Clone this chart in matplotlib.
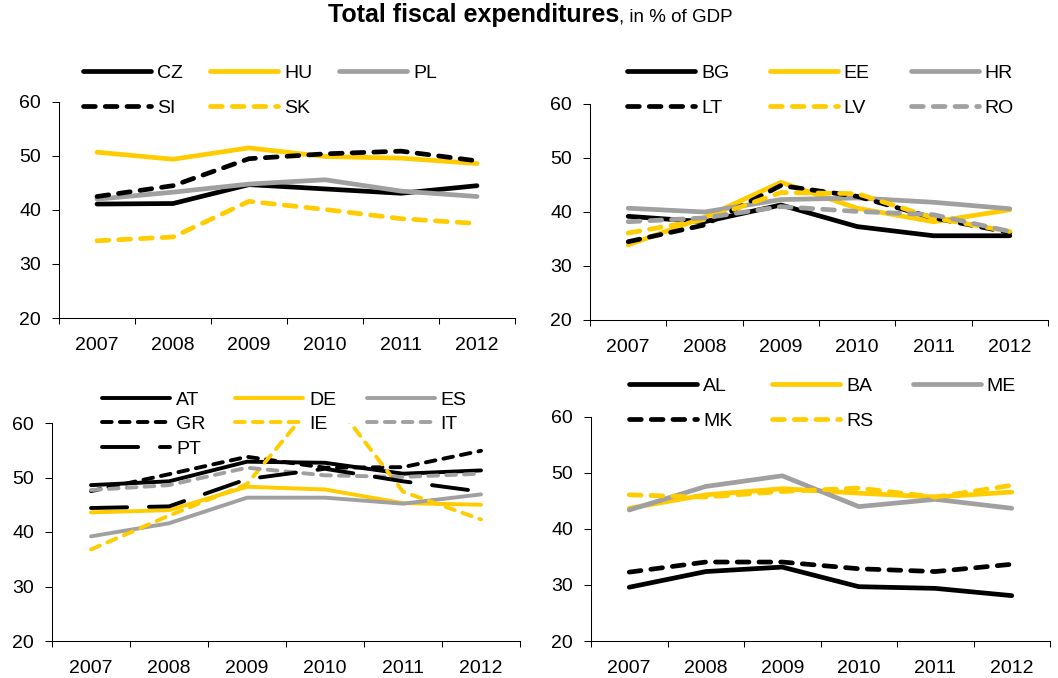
import matplotlib
matplotlib.use("Agg")
import matplotlib.pyplot as plt
import numpy as np

plt.rcParams['font.family'] = ['Liberation Sans', 'DejaVu Sans']

W, H = 1058, 678

years = ['2007', '2008', '2009', '2010', '2011', '2012']

# Central Europe
cz = [41.1, 41.2, 44.7, 43.9, 43.1, 44.5]
hu = [50.7, 49.4, 51.5, 49.9, 49.6, 48.6]
pl = [42.0, 43.3, 44.8, 45.6, 43.5, 42.5]
si = [42.5, 44.5, 49.5, 50.4, 50.9, 49.1]
sk = [34.3, 35.0, 41.6, 40.1, 38.4, 37.5]

# Baltics, Bulgaria, Croatia, Romania
bg = [39.2, 38.2, 41.3, 37.3, 35.6, 35.6]
ee = [33.9, 39.0, 45.5, 40.7, 38.2, 40.4]
hr = [40.7, 40.0, 42.3, 42.6, 41.8, 40.6]
lt = [34.5, 37.6, 44.9, 42.9, 38.9, 36.2]
lv = [36.1, 38.6, 43.6, 43.4, 38.9, 36.4]
ro = [38.2, 38.9, 41.0, 40.1, 39.5, 36.4]

# Euro area
at = [48.6, 49.3, 52.9, 52.7, 50.7, 51.3]
de = [43.6, 44.0, 48.3, 47.8, 45.3, 45.0]
es = [39.2, 41.6, 46.3, 46.3, 45.2, 46.9]
gr = [47.5, 50.6, 53.8, 51.8, 51.9, 54.9]
ie = [36.8, 43.0, 48.8, 66.1, 47.4, 42.3]
it = [47.7, 48.6, 51.8, 50.4, 50.1, 50.7]
pt = [44.4, 44.7, 49.7, 51.6, 49.3, 47.4]

# Western Balkans
al = [29.6, 32.4, 33.2, 29.7, 29.4, 28.1]
ba = [43.7, 46.1, 47.2, 46.4, 45.7, 46.6]
me = [43.4, 47.6, 49.5, 44.0, 45.3, 43.7]
mk = [32.3, 34.1, 34.1, 32.9, 32.4, 33.7]
rs = [46.1, 45.7, 46.7, 47.3, 45.7, 47.8]

BLACK = '#000000'
YELLOW = '#FFCC00'
GREY = '#A0A0A0'

SOLID = None
DASH = (2.5, 2.1)
LONGDASH = (9.3, 5.6)


def box(left, top, right, bottom):
    return [left / W, 1 - bottom / H, (right - left) / W, (bottom - top) / H]


def draw_panel(fig, rect, series, legend_at, colspacing, rowspacing, lw):
    ax = fig.add_axes(rect)
    x = np.arange(len(years))
    handles = []
    for label, vals, color, dash in series:
        line, = ax.plot(x, vals, color=color, lw=lw, label=label,
                        solid_capstyle='round', dash_capstyle='round')
        if dash is not None:
            line.set_dashes(dash)
        handles.append(line)

    ax.set_xlim(-0.5, len(years) - 0.5)
    ax.set_ylim(20, 60)
    ax.set_yticks([20, 30, 40, 50, 60])
    ax.set_xticks(np.arange(-0.5, len(years), 1))
    ax.set_xticklabels([])
    ax.set_xticks(x, labels=years, minor=True)
    ax.tick_params(axis='x', which='major', length=4, width=0.75, direction='out')
    ax.tick_params(axis='x', which='minor', length=0, pad=14, labelsize=14)
    ax.tick_params(axis='y', length=5, width=0.75, pad=8, labelsize=14)
    for s in ['top', 'right']:
        ax.spines[s].set_visible(False)
    for s in ['left', 'bottom']:
        ax.spines[s].set_linewidth(0.75)

    # legend fills column by column, so reorder to read row by row
    ncol = 3
    nrow = int(np.ceil(len(handles) / ncol))
    order = []
    for c in range(ncol):
        for r in range(nrow):
            i = r * ncol + c
            if i < len(handles):
                order.append(i)
    lx, ly = legend_at
    ax.legend([handles[i] for i in order], [series[i][0] for i in order],
              ncol=ncol, loc='upper left',
              bbox_to_anchor=(lx / W, 1 - ly / H), bbox_transform=fig.transFigure,
              frameon=False, fontsize=14, handlelength=3.5, handletextpad=0.3,
              columnspacing=colspacing, labelspacing=rowspacing,
              borderpad=0, borderaxespad=0)
    return ax


fig = plt.figure(figsize=(W / 100, H / 100), dpi=100)

draw_panel(fig, box(59, 102, 515, 318),
           [('CZ', cz, BLACK, SOLID), ('HU', hu, YELLOW, SOLID), ('PL', pl, GREY, SOLID),
            ('SI', si, BLACK, DASH), ('SK', sk, YELLOW, DASH)],
           (83, 64), 1.4, 0.91, 3.4)

draw_panel(fig, box(590, 104, 1048, 320),
           [('BG', bg, BLACK, SOLID), ('EE', ee, YELLOW, SOLID), ('HR', hr, GREY, SOLID),
            ('LT', lt, BLACK, DASH), ('LV', lv, YELLOW, DASH), ('RO', ro, GREY, DASH)],
           (627, 64), 2.1, 0.91, 3.4)

draw_panel(fig, box(52, 423, 520, 641),
           [('AT', at, BLACK, SOLID), ('DE', de, YELLOW, SOLID), ('ES', es, GREY, SOLID),
            ('GR', gr, BLACK, DASH), ('IE', ie, YELLOW, DASH), ('IT', it, GREY, DASH),
            ('PT', pt, BLACK, LONGDASH)],
           (102, 391), 1.55, 0.36, 2.8)

draw_panel(fig, box(591, 417, 1050, 641),
           [('AL', al, BLACK, SOLID), ('BA', ba, YELLOW, SOLID), ('ME', me, GREY, SOLID),
            ('MK', mk, BLACK, DASH), ('RS', rs, YELLOW, DASH)],
           (629, 377), 2.05, 0.91, 3.4)

# title: bold lead followed by the unit in a smaller regular face
renderer = fig.canvas.get_renderer()
t1 = fig.text(0, 0, 'Total fiscal expenditures', fontsize=18, fontweight='bold')
t2 = fig.text(0, 0, ', in % of GDP', fontsize=13.5)
w1 = t1.get_window_extent(renderer).width
w2 = t2.get_window_extent(renderer).width
x0 = 530 - (w1 + w2) / 2
base = H - 22
t1.set_position((x0 / W, base / H))
t2.set_position(((x0 + w1) / W, base / H))

fig.savefig('out.png', dpi=100)
